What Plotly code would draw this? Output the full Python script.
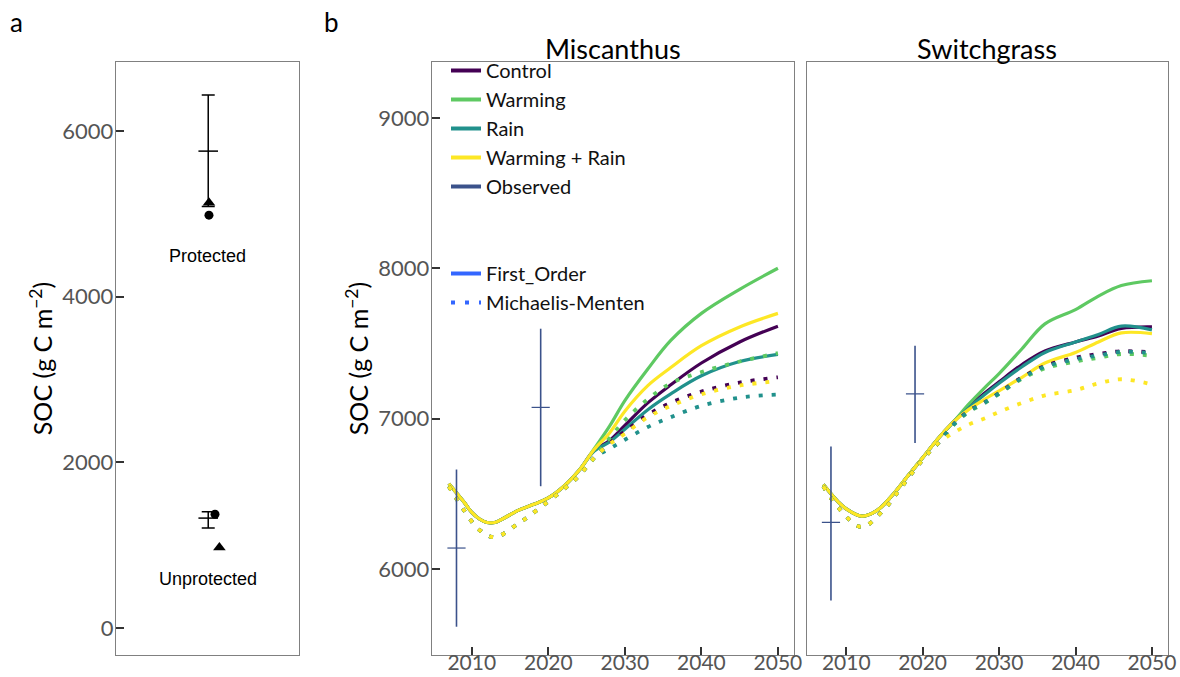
import plotly.graph_objects as go

# ---------------- Panel a data ----------------
pools = ["Protected", "Unprotected"]
obs_pool_mean = [5758, 1327]
obs_pool_plus = [677, 78]
obs_pool_minus = [668, 120]
model_circle = [4985, 1374]
model_triangle = [5135, 971]

# ---------------- Panel b data ----------------
treatments = ["Control", "Warming", "Rain", "Warming + Rain"]
colors = ["#440154", "#5ec962", "#21918c", "#fde725"]
obs_color = "#3b528b"

obs_years = [2008, 2019]
misc_obs_mean = [6140, 7075]
misc_obs_plus = [522, 523]
misc_obs_minus = [523, 524]
swit_obs_mean = [6310, 7165]
swit_obs_plus = [505, 320]
swit_obs_minus = [519, 326]

# Miscanthus, First_Order (solid)
misc_fo_years = [2007, 2009, 2010, 2011, 2012, 2013, 2014, 2016, 2018, 2020, 2022, 2024,
                 2026, 2028, 2030, 2033, 2036, 2040, 2045, 2050]
misc_fo_control = [6567, 6444, 6377, 6333, 6310, 6310, 6333, 6389, 6429, 6473, 6549, 6655,
                   6790, 6855, 6955, 7105, 7225, 7370, 7510, 7615]
misc_fo_warming = [6567, 6444, 6377, 6333, 6310, 6310, 6333, 6389, 6429, 6473, 6549, 6655,
                   6800, 6950, 7120, 7330, 7520, 7700, 7860, 8000]
misc_fo_rain = [6567, 6444, 6377, 6333, 6310, 6310, 6333, 6389, 6429, 6473, 6549, 6655,
                6785, 6845, 6930, 7060, 7165, 7285, 7380, 7427]
misc_fo_wr = [6567, 6444, 6377, 6333, 6310, 6310, 6333, 6389, 6429, 6473, 6549, 6655,
              6795, 6905, 7050, 7220, 7340, 7485, 7610, 7700]

# Miscanthus, Michaelis-Menten (dotted)
misc_mm_years = [2007, 2009, 2011, 2013, 2016, 2019, 2022, 2024, 2026,
                 2028, 2030, 2033, 2036, 2040, 2045, 2050]
misc_mm_control = [6550, 6390, 6260, 6212, 6300, 6411, 6530, 6620, 6740,
                   6840, 6915, 7025, 7105, 7180, 7240, 7275]
misc_mm_warming = [6550, 6390, 6260, 6212, 6300, 6411, 6530, 6620, 6740,
                   6870, 6990, 7130, 7235, 7310, 7380, 7435]
misc_mm_rain = [6550, 6390, 6260, 6212, 6300, 6411, 6530, 6620, 6740,
                6800, 6860, 6945, 7010, 7085, 7140, 7160]
misc_mm_wr = [6550, 6390, 6260, 6212, 6300, 6411, 6530, 6620, 6740,
              6830, 6900, 7010, 7085, 7162, 7220, 7250]

# Switchgrass, First_Order (solid)
swit_fo_years = [2007, 2009, 2010, 2012, 2014, 2016, 2018, 2020, 2022, 2024,
                 2026, 2028, 2030, 2033, 2036, 2040, 2043, 2046, 2050]
swit_fo_control = [6562, 6444, 6400, 6352, 6389, 6489, 6615, 6740, 6867, 6977,
                   7075, 7165, 7245, 7360, 7450, 7510, 7550, 7600, 7610]
swit_fo_warming = [6562, 6444, 6400, 6352, 6389, 6489, 6615, 6740, 6867, 6977,
                   7095, 7200, 7300, 7465, 7630, 7725, 7815, 7885, 7917]
swit_fo_rain = [6562, 6444, 6400, 6352, 6389, 6489, 6615, 6740, 6867, 6977,
                7070, 7155, 7235, 7345, 7440, 7510, 7560, 7615, 7590]
swit_fo_wr = [6562, 6444, 6400, 6352, 6389, 6489, 6615, 6740, 6867, 6977,
              7060, 7125, 7185, 7275, 7370, 7440, 7510, 7570, 7565]

# Switchgrass, Michaelis-Menten (dotted)
swit_mm_years = [2007, 2009, 2012, 2015, 2017, 2019, 2021, 2022,
                 2024, 2026, 2028, 2030, 2033, 2036, 2040, 2043, 2046, 2050]
swit_mm_control = [6550, 6407, 6280, 6400, 6530, 6665, 6785, 6835,
                   6960, 7050, 7105, 7170, 7275, 7350, 7405, 7430, 7448, 7440]
swit_mm_warming = [6550, 6407, 6280, 6400, 6530, 6665, 6785, 6835,
                   6955, 7045, 7100, 7165, 7265, 7335, 7380, 7405, 7430, 7418]
swit_mm_rain = [6550, 6407, 6280, 6400, 6530, 6665, 6785, 6835,
                6958, 7048, 7103, 7168, 7270, 7345, 7395, 7420, 7445, 7435]
swit_mm_wr = [6550, 6407, 6280, 6400, 6530, 6665, 6785, 6835,
              6905, 6960, 7000, 7045, 7105, 7155, 7190, 7235, 7262, 7228]

W, H = 1180, 677
FONT = "Lato"


def px(x):
    return x / W


def py(y):
    return 1 - y / H


fig = go.Figure()

# ---------------- Panel a traces ----------------
bar_x = 0.504
fig.add_trace(go.Scatter(
    x=[bar_x] * len(pools), y=obs_pool_mean, mode="markers",
    marker=dict(symbol="line-ew", size=14, line=dict(color="black", width=1.5)),
    error_y=dict(type="data", symmetric=False, array=obs_pool_plus,
                 arrayminus=obs_pool_minus, color="black", thickness=1.5, width=6.5),
    xaxis="x", yaxis="y", showlegend=False, hoverinfo="skip"))
fig.add_trace(go.Scatter(
    x=[0.508, 0.541], y=model_circle, mode="markers",
    marker=dict(symbol="circle", size=9, color="black"),
    xaxis="x", yaxis="y", showlegend=False))
fig.add_trace(go.Scatter(
    x=[0.508, 0.565], y=model_triangle, mode="markers",
    marker=dict(symbol="triangle-up", size=11, color="black"),
    xaxis="x", yaxis="y", showlegend=False))

# ---------------- Panel b traces ----------------
dot_dash = "4px,9px"


def add_panel(xa, ya, fo_years, fo_series, mm_years, mm_series, om, op, omi):
    for s, c in zip(fo_series, colors):
        fig.add_trace(go.Scatter(x=fo_years, y=s, mode="lines",
                                 line=dict(color=c, width=3.2, shape="spline", smoothing=1.0),
                                 xaxis=xa, yaxis=ya, showlegend=False))
    for s, c in zip(mm_series, colors):
        fig.add_trace(go.Scatter(x=mm_years, y=s, mode="lines",
                                 line=dict(color=c, width=3.8, dash=dot_dash, shape="spline", smoothing=1.0),
                                 xaxis=xa, yaxis=ya, showlegend=False))
    fig.add_trace(go.Scatter(
        x=obs_years, y=om, mode="markers",
        marker=dict(symbol="line-ew", size=13, line=dict(color=obs_color, width=1.2)),
        error_y=dict(type="data", symmetric=False, array=op, arrayminus=omi,
                     color=obs_color, thickness=1.6, width=0),
        xaxis=xa, yaxis=ya, showlegend=False, hoverinfo="skip"))


add_panel("x2", "y2", misc_fo_years,
          [misc_fo_control, misc_fo_warming, misc_fo_rain, misc_fo_wr],
          misc_mm_years,
          [misc_mm_control, misc_mm_warming, misc_mm_rain, misc_mm_wr],
          misc_obs_mean, misc_obs_plus, misc_obs_minus)
add_panel("x3", "y3", swit_fo_years,
          [swit_fo_control, swit_fo_warming, swit_fo_rain, swit_fo_wr],
          swit_mm_years,
          [swit_mm_control, swit_mm_warming, swit_mm_rain, swit_mm_wr],
          swit_obs_mean, swit_obs_plus, swit_obs_minus)

# Legend entries
for name, c in zip(treatments + ["Observed"], colors + [obs_color]):
    fig.add_trace(go.Scatter(x=[None], y=[None], mode="lines", name=name,
                             line=dict(color=c, width=4), legendgroup=name,
                             xaxis="x2", yaxis="y2", legend="legend"))
fig.add_trace(go.Scatter(x=[None], y=[None], mode="lines", name="First_Order",
                         line=dict(color="#3366ff", width=4), legendgroup="fo",
                         xaxis="x2", yaxis="y2", legend="legend2"))
fig.add_trace(go.Scatter(x=[None], y=[None], mode="lines", name="Michaelis-Menten",
                         line=dict(color="#3366ff", width=4, dash="4px,10px"), legendgroup="mm",
                         xaxis="x2", yaxis="y2", legend="legend2"))

axis_common = dict(showline=True, mirror=True, linecolor="#808080", linewidth=1.4,
                   showgrid=False, zeroline=False,
                   tickfont=dict(family=FONT, size=22, color="#555555"),
                   ticks="inside", ticklen=8, tickcolor="#333333", tickwidth=1.5)
xtickfont = dict(family=FONT, size=21, color="#555555")

yb_top, yb_bot = 62, 655
title_font = dict(family=FONT, size=25, color="black")
soc_title = "SOC (g C m<sup>−2</sup>)"
leg_font = dict(family=FONT, size=20, color="#111111")

xaxis_common = {k: v for k, v in axis_common.items() if k != "tickfont"}

fig.update_layout(
    autosize=True,
    margin=dict(l=0, r=0, t=0, b=0, autoexpand=False),
    paper_bgcolor="white", plot_bgcolor="white",
    xaxis=dict(domain=[px(116), px(299)], range=[0, 1], anchor="y",
               showline=True, mirror=True, linecolor="#808080", linewidth=1.4,
               showgrid=False, zeroline=False, showticklabels=False, ticks=""),
    yaxis=dict(domain=[py(yb_bot), py(yb_top)], range=[-326, 6834], anchor="x",
               tickvals=[0, 2000, 4000, 6000], ticklabelstandoff=-3,
               title=dict(text=soc_title, font=title_font, standoff=2),
               **axis_common),
    xaxis2=dict(domain=[px(432), px(794)], range=[2004.8, 2052.1], anchor="y2",
                tickvals=[2010, 2020, 2030, 2040, 2050], ticklabelstandoff=-11,
                tickfont=xtickfont, **xaxis_common),
    yaxis2=dict(domain=[py(yb_bot), py(yb_top)], range=[5429, 9371], anchor="x2",
                tickvals=[6000, 7000, 8000, 9000], ticklabelstandoff=-3,
                title=dict(text=soc_title, font=title_font, standoff=2),
                **axis_common),
    xaxis3=dict(domain=[px(806.5), px(1168)], range=[2004.8, 2052.1], anchor="y3",
                tickvals=[2010, 2020, 2030, 2040, 2050], ticklabelstandoff=-11,
                tickfont=xtickfont, **xaxis_common),
    yaxis3=dict(domain=[py(yb_bot), py(yb_top)], range=[5429, 9371], anchor="x3",
                matches="y2", showline=True, mirror=True, linecolor="#808080", linewidth=1.4,
                showgrid=False, zeroline=False, showticklabels=False, ticks=""),
    legend=dict(x=px(446), y=py(51), xanchor="left", yanchor="top",
                bgcolor="rgba(0,0,0,0)", font=leg_font,
                tracegroupgap=0, itemwidth=30),
    legend2=dict(x=px(446), y=py(254), xanchor="left", yanchor="top",
                 bgcolor="rgba(0,0,0,0)", font=leg_font,
                 tracegroupgap=0, itemwidth=30),
)

annos = [
    dict(text="a", x=px(16), y=py(22), font=dict(family=FONT, size=26, color="black")),
    dict(text="b", x=px(331), y=py(22), font=dict(family=FONT, size=26, color="black")),
    dict(text="Miscanthus", x=px(613), y=py(49), font=dict(family=FONT, size=27, color="black")),
    dict(text="Switchgrass", x=px(987), y=py(49), font=dict(family=FONT, size=27, color="black")),
]
for a in annos:
    fig.add_annotation(xref="paper", yref="paper", showarrow=False,
                       xanchor="center", yanchor="middle", **a)

fig.add_annotation(x=0.5, y=4490, xref="x", yref="y", text=pools[0], showarrow=False,
                   font=dict(family="Liberation Sans", size=18, color="black"))
fig.add_annotation(x=0.5, y=586, xref="x", yref="y", text=pools[1], showarrow=False,
                   font=dict(family="Liberation Sans", size=18, color="black"))

page_css = "margin:0;padding:0;overflow:hidden;"
fig.write_html(
    "out.html",
    config={"displayModeBar": False, "responsive": True},
    default_width="100vw",
    default_height="100vh",
    post_script=("document.documentElement.style.cssText='" + page_css + "';"
                 "document.body.style.cssText='" + page_css + "';"
                 "window.dispatchEvent(new Event('resize'));"),
)
